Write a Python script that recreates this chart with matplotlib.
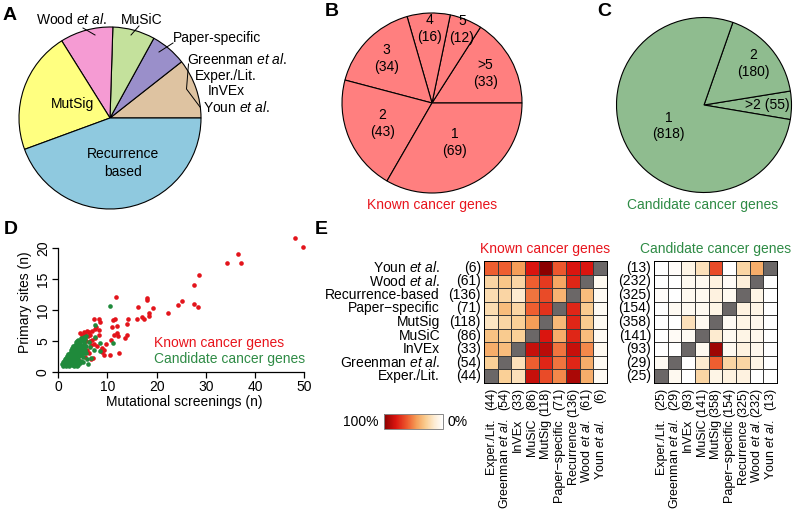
import numpy as np
import matplotlib
matplotlib.use("Agg")
import matplotlib.pyplot as plt
import matplotlib.transforms as mtransforms
from matplotlib.colors import LinearSegmentedColormap

plt.rcParams['font.family'] = ['Liberation Sans', 'DejaVu Sans']
plt.rcParams['mathtext.fontset'] = 'custom'
plt.rcParams['mathtext.rm'] = 'Liberation Sans'
plt.rcParams['mathtext.it'] = 'Liberation Sans:italic'
plt.rcParams['font.size'] = 9.5

# ---- panel A: methods used (share of pie, counterclockwise from 3 o'clock)
method_names = ["Other", "Paper-specific", "MuSiC", "Wood et al.", "MutSig", "Recurrence based"]
method_share = [10.6, 6.4, 7.5, 9.4, 21.7, 44.4]
method_colors = ["#DEC3A1", "#9A8FCA", "#C4E19C", "#F59BD3", "#FFFF80", "#8FC9DF"]

# ---- panel B / C: number of screens per gene
known_groups = [">5", "5", "4", "3", "2", "1"]
known_counts = [33, 12, 16, 34, 43, 69]
known_label_r = [0.68, 0.88, 0.83, 0.71, 0.60, 0.51]
cand_groups = [">2", "2", "1"]
cand_counts = [55, 180, 818]
cand_label_r = [0.72, 0.74, 0.47]

# ---- panel D: screenings vs primary sites
known_screens = [48.1, 49.8, 36.5, 34.3, 37.1, 28.5, 27.6, 27.6, 28.3, 25.1, 24.4, 22.4, 19.2,
                 18.1, 18.0, 16.1, 18.4, 18.4, 17.1, 17.4, 15.9, 14.1, 14.0, 14.0, 13.5, 12.4,
                 11.8, 11.1, 11.6, 11.9, 10.9, 11.9, 12.1, 11.3, 10.5, 9.3, 9.7, 8.9, 8.6, 7.9,
                 7.2, 7.0, 6.6, 6.5, 5.8, 5.2, 4.5, 4.8, 6.0, 6.8, 7.4, 7.6, 8.3, 7.35, 8.2,
                 8.4, 8.3, 6.2, 5.5, 6.4, 6.7, 5.8, 6.2, 4.2, 3.8, 4.5, 5.2, 3.0, 3.5, 4.0,
                 5.7, 7.5, 8.8, 9.2, 10.8, 6.9, 5.0, 4.0, 3.3, 5.4]
known_sites = [21.7, 20.2, 19.1, 17.6, 17.6, 15.7, 14.0, 11.0, 10.5, 11.4, 10.9, 9.6, 10.4,
               11.9, 11.6, 10.5, 9.5, 9.0, 8.8, 8.5, 8.5, 8.6, 7.7, 6.0, 5.4, 3.1,
               12.2, 8.4, 8.6, 7.4, 7.3, 6.3, 5.8, 5.9, 2.7, 2.7, 4.5, 3.9, 3.6, 4.1,
               4.5, 2.3, 2.1, 6.0, 6.6, 6.5, 6.3, 5.9, 5.8, 6.6, 7.0, 7.3, 6.8, 8.5, 8.5,
               8.1, 6.0, 6.4, 6.2, 5.0, 4.4, 3.6, 3.1, 3.0, 3.5, 4.2, 5.2, 2.2, 2.8, 2.0,
               5.0, 5.4, 3.2, 3.5, 5.1, 5.2, 4.0, 4.5, 3.6, 2.4]
cand_screens = [10.6, 7.4, 11.1, 8.5, 7.5, 8.5, 6.6, 7.2, 6.4, 5.7, 6.0, 6.2, 5.9,
                0.8, 0.9, 1.0, 1.3, 1.6, 1.9, 2.2, 2.5, 2.8, 3.1, 3.4, 3.7, 4.0, 4.4,
                1.1, 1.4, 1.7, 2.0, 2.3, 2.6, 2.9, 3.2, 3.5, 3.8, 4.1, 4.6, 5.1,
                1.5, 1.8, 2.1, 2.4, 2.7, 3.0, 3.3, 3.6, 3.9, 4.2, 4.6, 5.0,
                2.0, 2.3, 2.6, 2.9, 3.2, 3.5, 3.8, 4.1, 4.4, 4.8, 5.2,
                2.5, 2.8, 3.1, 3.4, 3.7, 4.0, 4.3, 4.7, 5.0, 5.4,
                3.0, 3.3, 3.6, 3.9, 4.2, 4.5, 4.8, 5.2, 5.6,
                3.6, 4.0, 4.4, 4.8, 5.2, 5.5, 3.8, 4.6, 5.2, 5.6,
                1.2, 1.5, 1.8, 2.1, 2.4, 2.7, 3.0, 3.3, 3.6, 1.3, 1.6, 1.9, 2.2, 2.5,
                2.8, 3.1, 3.4, 3.7, 4.3, 4.9, 2.2, 2.6, 3.0, 3.4, 3.8, 4.2, 4.5, 5.3]
cand_sites = [10.7, 7.5, 4.6, 4.6, 5.7, 3.4, 2.3, 3.6, 4.0, 3.0, 1.3, 4.9, 2.0,
              1.3, 1.6, 1.0, 1.1, 0.9, 1.2, 1.0, 1.3, 1.1, 1.0, 1.2, 0.9, 1.1, 1.4,
              1.7, 1.5, 1.9, 1.6, 2.0, 1.7, 1.9, 1.6, 2.0, 1.7, 1.9, 1.8, 1.5,
              2.3, 2.5, 2.2, 2.6, 2.3, 2.5, 2.2, 2.6, 2.3, 2.5, 2.7, 2.4,
              2.9, 3.1, 2.8, 3.2, 2.9, 3.2, 2.9, 3.2, 3.0, 3.3, 3.0,
              3.5, 3.8, 3.5, 3.8, 3.5, 3.8, 3.5, 3.7, 3.9, 3.6,
              4.1, 4.3, 4.0, 4.4, 4.1, 4.4, 4.2, 4.5, 4.2,
              4.8, 5.1, 4.8, 5.2, 4.9, 5.3, 5.0, 5.5, 5.6, 5.8,
              1.4, 1.2, 1.4, 1.3, 1.5, 1.4, 1.5, 1.4, 1.3, 2.1, 2.0, 2.2, 1.8, 2.1,
              2.2, 2.0, 2.4, 2.2, 2.8, 3.6, 2.7, 3.0, 3.4, 3.0, 3.2, 3.6, 3.3, 4.0]

# ---- panel E: pairwise overlap between methods (rows top->bottom, cols left->right)
row_names = ["Youn $\\mathit{et\\ al.}$", "Wood $\\mathit{et\\ al.}$", "Recurrence-based",
             "Paper\u2212specific", "MutSig", "MuSiC", "InVEx",
             "Greenman $\\mathit{et\\ al.}$", "Exper./Lit."]
col_names = ["Exper./Lit.", "Greenman $\\mathit{et\\ al.}$", "InVEx", "MuSiC", "MutSig",
             "Paper\u2212specific", "Recurrence", "Wood $\\mathit{et\\ al.}$", "Youn $\\mathit{et\\ al.}$"]
known_row_n = [6, 61, 136, 71, 118, 86, 33, 54, 44]
known_col_n = [44, 54, 33, 86, 118, 71, 136, 61, 6]
cand_row_n = [13, 232, 325, 154, 358, 141, 93, 29, 25]
cand_col_n = [25, 29, 93, 141, 358, 154, 325, 232, 13]
nan = np.nan
known_overlap = [
    [0.60, 0.60, 0.45, 0.80, 1.00, 0.62, 0.80, 0.80, nan],
    [0.25, 0.32, 0.25, 0.60, 0.70, 0.42, 0.75, nan, 0.05],
    [0.22, 0.25, 0.15, 0.55, 0.65, 0.38, nan, 0.35, 0.04],
    [0.22, 0.35, 0.25, 0.60, 0.72, nan, 0.75, 0.30, 0.04],
    [0.18, 0.25, 0.28, 0.45, nan, 0.36, 0.75, 0.30, 0.04],
    [0.33, 0.30, 0.28, nan, 0.80, 0.40, 0.75, 0.35, 0.04],
    [0.40, 0.35, nan, 0.85, 0.88, 0.55, 0.85, 0.50, 0.05],
    [0.28, nan, 0.20, 0.60, 0.75, 0.55, 0.75, 0.40, 0.04],
    [nan, 0.28, 0.20, 0.85, 0.65, 0.50, 0.92, 0.40, 0.04],
]
cand_overlap = [
    [0.00, 0.02, 0.08, 0.20, 0.65, 0.00, 0.25, 0.40, nan],
    [0.00, 0.00, 0.05, 0.05, 0.10, 0.03, 0.12, nan, 0.00],
    [0.02, 0.00, 0.05, 0.05, 0.10, 0.05, nan, 0.08, 0.00],
    [0.00, 0.04, 0.05, 0.05, 0.08, nan, 0.10, 0.08, 0.00],
    [0.00, 0.00, 0.20, 0.05, nan, 0.04, 0.08, 0.06, 0.00],
    [0.00, 0.03, 0.04, nan, 0.15, 0.05, 0.08, 0.06, 0.00],
    [0.00, 0.00, nan, 0.05, 0.95, 0.05, 0.10, 0.06, 0.00],
    [0.04, nan, 0.00, 0.15, 0.60, 0.25, 0.25, 0.08, 0.00],
    [nan, 0.05, 0.00, 0.25, 0.08, 0.10, 0.10, 0.00, 0.00],
]

red = "#E3141B"
green = "#1F8A3B"
red_text = "#E8141C"
green_text = "#2E8B45"
overlap_cmap = LinearSegmentedColormap.from_list(
    "overlap", [(0, "#FFFFFF"), (0.15, "#FDEBD0"), (0.3, "#F9CB8E"), (0.45, "#F59E58"),
                (0.6, "#EE5E30"), (0.8, "#DA150F"), (1.0, "#8B0000")])
overlap_cmap.set_bad("#6B6767")

W, H = 796, 524
fig = plt.figure(figsize=(W / 100, H / 100), dpi=100)


def px_axes(x0, y0, w, h):
    return fig.add_axes([x0 / W, 1 - (y0 + h) / H, w / W, h / H])


def label_wedges(ax, wedges, texts, radii):
    for w, t, r in zip(wedges, texts, radii):
        ang = np.deg2rad((w.theta1 + w.theta2) / 2)
        ax.text(r * np.cos(ang), r * np.sin(ang), t, ha='center', va='center',
                fontsize=10, linespacing=1.25)


# A
axA = px_axes(19, 27, 182, 182)
axA.pie(method_share, colors=method_colors, startangle=0,
        wedgeprops=dict(edgecolor='black', linewidth=0.8))
axA.set_xlim(-1, 1)
axA.set_ylim(-1, 1)

# B
axB = px_axes(342, 13, 180, 180)
wB, _ = axB.pie(known_counts, colors=["#FF7F7F"] * len(known_counts), startangle=0,
                wedgeprops=dict(edgecolor='black', linewidth=0.8))
axB.set_xlim(-1, 1)
axB.set_ylim(-1, 1)
label_wedges(axB, wB, [f"{g}\n({n})" for g, n in zip(known_groups, known_counts)], known_label_r)

# C
axC = px_axes(616.5, 17.5, 175, 175)
wC, _ = axC.pie(cand_counts, colors=["#8FBC8F"] * len(cand_counts), startangle=-9.6,
                wedgeprops=dict(edgecolor='black', linewidth=0.8))
axC.set_xlim(-1, 1)
axC.set_ylim(-1, 1)
cand_texts = [f"{g}\n({n})" for g, n in zip(cand_groups, cand_counts)]
cand_texts[0] = f"{cand_groups[0]} ({cand_counts[0]})"
label_wedges(axC, wC, cand_texts, cand_label_r)

# D
axD = px_axes(58.3, 233.1, 250.9, 138.6)
axD.scatter(known_screens, known_sites, s=11, color=red, linewidths=0, zorder=2)
axD.scatter(cand_screens, cand_sites, s=11, color=green, linewidths=0, zorder=3)
axD.set_xlim(0, 51)
axD.set_ylim(0, 22.5)
axD.spines['top'].set_visible(False)
axD.spines['right'].set_visible(False)
axD.spines['left'].set_bounds(0, 20)
axD.spines['bottom'].set_bounds(0, 50)
for s in ('left', 'bottom'):
    axD.spines[s].set_linewidth(0.9)
axD.set_xticks(range(0, 51, 10))
axD.set_yticks(range(0, 21, 5))
axD.tick_params(length=4, width=0.9, labelsize=10, pad=2)
plt.setp(axD.get_yticklabels(), rotation=90, va='center')
axD.set_xlabel("Mutational screenings (n)", fontsize=10, labelpad=1)
axD.set_ylabel("Primary sites (n)", fontsize=10, labelpad=3)


# E
def heatmap(x0, values, row_n, col_n, with_names):
    ax = px_axes(x0, 261, 123, 122)
    ax.pcolormesh(np.array(values, dtype=float), cmap=overlap_cmap, vmin=0, vmax=1,
                  edgecolors='#3A3A3A', linewidth=0.6)
    ax.set_xlim(0, 9)
    ax.set_ylim(9, 0)
    ax.set_xticks([])
    ax.set_yticks([])
    for s in ax.spines.values():
        s.set_linewidth(0.7)
    tr_row = mtransforms.blended_transform_factory(ax.transAxes, ax.transData)
    tr_col = mtransforms.blended_transform_factory(ax.transData, ax.transAxes)
    for i in range(9):
        ax.text(-3 / 123, i + 0.5, f"({row_n[i]})", transform=tr_row,
                ha='right', va='center', fontsize=10)
        if with_names:
            ax.text(-44 / 123, i + 0.5, row_names[i], transform=tr_row,
                    ha='right', va='center', fontsize=10)
        ax.text(i + 0.5, -5 / 122, f"({col_n[i]})", transform=tr_col, rotation=90,
                ha='center', va='top', fontsize=9)
        ax.text(i + 0.5, -36 / 122, col_names[i], transform=tr_col, rotation=90,
                ha='center', va='top', fontsize=9)
    return ax


heatmap(484, known_overlap, known_row_n, known_col_n, True)
heatmap(654, cand_overlap, cand_row_n, cand_col_n, False)

cax = px_axes(384, 414, 59, 15)
sm = plt.cm.ScalarMappable(cmap=overlap_cmap, norm=plt.Normalize(0, 1))
cb = fig.colorbar(sm, cax=cax, orientation='horizontal')
cb.set_ticks([])
cax.invert_xaxis()
cb.outline.set_linewidth(0.7)
cb.outline.set_edgecolor('#888888')

# free text layer in pixel coordinates
ov = px_axes(0, 0, W, H)
ov.set_xlim(0, W)
ov.set_ylim(H, 0)
ov.axis('off')

for letter, x, y in [("A", 3, 15), ("B", 325, 12), ("C", 597, 12), ("D", 4, 229), ("E", 315, 229)]:
    ov.text(x, y, letter, fontsize=14, fontweight='bold', ha='left', va='center')

ov.text(73, 104, "MutSig", ha='center', va='center', fontsize=10)
ov.text(123, 163, "Recurrence\nbased", ha='center', va='center', fontsize=10, linespacing=1.3)
ov.text(71, 20, "Wood $\\mathit{et\\ al.}$", ha='center', va='center', fontsize=10)
ov.text(142, 20, "MuSiC", ha='center', va='center', fontsize=10)
ov.text(173, 38, "Paper-specific", ha='left', va='center', fontsize=10)
ov.text(187, 59, "Greenman $\\mathit{et\\ al.}$", ha='left', va='center', fontsize=10)
ov.text(195, 76, "Exper./Lit.", ha='left', va='center', fontsize=10)
ov.text(208, 91, "InVEx", ha='left', va='center', fontsize=10)
ov.text(203, 107, "Youn $\\mathit{et\\ al.}$", ha='left', va='center', fontsize=10)
lw = 0.7
ov.plot([83, 95], [28, 35], color='black', lw=lw)
ov.plot([139, 131], [26, 35], color='black', lw=lw)
ov.plot([173, 159], [43, 52], color='black', lw=lw)
ov.plot([188.5, 186.5, 200], [64, 89, 107], color='black', lw=lw)

ov.text(432, 205, "Known cancer genes", color=red_text, ha='center', va='center', fontsize=10)
ov.text(703, 205, "Candidate cancer genes", color=green_text, ha='center', va='center', fontsize=10)

ov.text(154, 343, "Known cancer genes", color=red_text, ha='left', va='center', fontsize=10)
ov.text(154, 359, "Candidate cancer genes", color=green_text, ha='left', va='center', fontsize=10)

ov.text(545.5, 249, "Known cancer genes", color=red_text, ha='center', va='center', fontsize=10)
ov.text(715.5, 249, "Candidate cancer genes", color=green_text, ha='center', va='center', fontsize=10)

ov.text(379, 422, "100%", ha='right', va='center', fontsize=10)
ov.text(448, 422, "0%", ha='left', va='center', fontsize=10)

fig.savefig("out.png", dpi=100)
